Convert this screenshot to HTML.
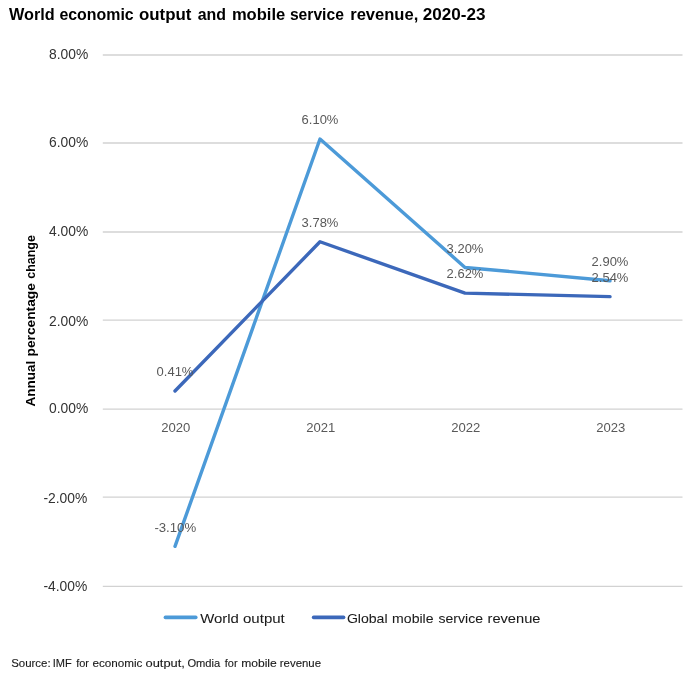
<!DOCTYPE html>
<html><head><meta charset="utf-8"><title>World economic output and mobile service revenue, 2020-23</title>
<style>
html,body{margin:0;padding:0;background:#fff}
svg{display:block;font-family:"Liberation Sans",sans-serif}
.grid line{stroke:#d2d2d2;stroke-width:1.3}
.ylab text{font-size:14.5px;fill:#333;text-anchor:end}
.cat text{font-size:13.1px;fill:#595959;text-anchor:middle}
.dl text{font-size:12.9px;fill:#595959;text-anchor:middle}
.ln{fill:none;stroke-width:3.4;stroke-linejoin:round;stroke-linecap:round}
</style></head><body>
<svg width="700" height="679" viewBox="0 0 700 679">
<rect width="700" height="679" fill="#fff"/>
<g class="grid"><line x1="102.8" x2="682.5" y1="55.0" y2="55.0"/><line x1="102.8" x2="682.5" y1="143.0" y2="143.0"/><line x1="102.8" x2="682.5" y1="232.0" y2="232.0"/><line x1="102.8" x2="682.5" y1="320.1" y2="320.1"/><line x1="102.8" x2="682.5" y1="409.1" y2="409.1"/><line x1="102.8" x2="682.5" y1="497.1" y2="497.1"/><line x1="102.8" x2="682.5" y1="586.3" y2="586.3"/></g>
<g class="ylab"><text x="88.2" y="59.40" textLength="39.2" lengthAdjust="spacingAndGlyphs">8.00%</text><text x="88.2" y="147.40" textLength="39.2" lengthAdjust="spacingAndGlyphs">6.00%</text><text x="88.2" y="236.40" textLength="39.2" lengthAdjust="spacingAndGlyphs">4.00%</text><text x="88.2" y="325.70" textLength="39.2" lengthAdjust="spacingAndGlyphs">2.00%</text><text x="88.2" y="413.40" textLength="39.2" lengthAdjust="spacingAndGlyphs">0.00%</text><text x="87.3" y="502.70" textLength="43.9" lengthAdjust="spacingAndGlyphs">-2.00%</text><text x="87.3" y="590.70" textLength="43.9" lengthAdjust="spacingAndGlyphs">-4.00%</text></g>
<g class="cat"><text x="175.7" y="431.5">2020</text><text x="320.7" y="431.5">2021</text><text x="465.7" y="431.5">2022</text><text x="610.7" y="431.5">2023</text></g>
<g font-size="13.4" font-weight="bold" fill="#000"><text transform="translate(35.4 406.60) rotate(-90)" textLength="45.80" lengthAdjust="spacingAndGlyphs">Annual</text><text transform="translate(35.4 356.50) rotate(-90)" textLength="73.40" lengthAdjust="spacingAndGlyphs">percentage</text><text transform="translate(35.4 278.80) rotate(-90)" textLength="43.70" lengthAdjust="spacingAndGlyphs">change</text></g>
<polyline class="ln" stroke="#4c9ad8" points="175,546.34 320,139.05 465,267.44 610,280.72"/>
<polyline class="ln" stroke="#3c68ba" points="175,390.95 320,241.76 465,293.11 610,296.65"/>
<g class="dl"><text x="175.3" y="531.64" textLength="41.8" lengthAdjust="spacingAndGlyphs">-3.10%</text><text x="320" y="124.35" textLength="36.8" lengthAdjust="spacingAndGlyphs">6.10%</text><text x="465" y="252.74" textLength="36.8" lengthAdjust="spacingAndGlyphs">3.20%</text><text x="610" y="266.02" textLength="36.8" lengthAdjust="spacingAndGlyphs">2.90%</text></g>
<g class="dl"><text x="175" y="376.25" textLength="36.8" lengthAdjust="spacingAndGlyphs">0.41%</text><text x="320" y="227.06" textLength="36.8" lengthAdjust="spacingAndGlyphs">3.78%</text><text x="465" y="278.41" textLength="36.8" lengthAdjust="spacingAndGlyphs">2.62%</text><text x="610" y="281.95" textLength="36.8" lengthAdjust="spacingAndGlyphs">2.54%</text></g>
<line x1="165.4" x2="195.8" y1="617.4" y2="617.4" stroke="#4c9ad8" stroke-width="3.6" stroke-linecap="round"/>
<line x1="313.6" x2="343.6" y1="617.4" y2="617.4" stroke="#3c68ba" stroke-width="3.6" stroke-linecap="round"/>
<g font-size="15.6" font-weight="bold" fill="#000" stroke="#000" stroke-width="0">
<text x="9.10" y="20.2" textLength="45.70" lengthAdjust="spacingAndGlyphs">World</text>
<text x="59.40" y="20.2" textLength="74.28" lengthAdjust="spacingAndGlyphs">economic</text>
<text x="139.00" y="20.2" textLength="52.47" lengthAdjust="spacingAndGlyphs">output</text>
<text x="197.70" y="20.2" textLength="28.30" lengthAdjust="spacingAndGlyphs">and</text>
<text x="231.90" y="20.2" textLength="53.40" lengthAdjust="spacingAndGlyphs">mobile</text>
<text x="289.90" y="20.2" textLength="53.98" lengthAdjust="spacingAndGlyphs">service</text>
<text x="350.20" y="20.2" textLength="68.08" lengthAdjust="spacingAndGlyphs">revenue,</text>
<text x="422.70" y="20.2" textLength="62.83" lengthAdjust="spacingAndGlyphs">2020-23</text>
</g>
<g font-size="13.5" font-weight="normal" fill="#1a1a1a" stroke="#1a1a1a" stroke-width="0.06">
<text x="200.20" y="622.8" textLength="38.70" lengthAdjust="spacingAndGlyphs">World</text>
<text x="243.00" y="622.8" textLength="41.81" lengthAdjust="spacingAndGlyphs">output</text>
</g>
<g font-size="13.5" font-weight="normal" fill="#1a1a1a" stroke="#1a1a1a" stroke-width="0.06">
<text x="346.90" y="622.8" textLength="40.66" lengthAdjust="spacingAndGlyphs">Global</text>
<text x="392.10" y="622.8" textLength="41.46" lengthAdjust="spacingAndGlyphs">mobile</text>
<text x="438.50" y="622.8" textLength="44.46" lengthAdjust="spacingAndGlyphs">service</text>
<text x="487.50" y="622.8" textLength="53.00" lengthAdjust="spacingAndGlyphs">revenue</text>
</g>
<g font-size="11.7" font-weight="normal" fill="#1a1a1a" stroke="#1a1a1a" stroke-width="0.12">
<text x="11.20" y="666.7" textLength="39.41" lengthAdjust="spacingAndGlyphs">Source:</text>
<text x="52.80" y="666.7" textLength="19.00" lengthAdjust="spacingAndGlyphs">IMF</text>
<text x="76.20" y="666.7" textLength="12.82" lengthAdjust="spacingAndGlyphs">for</text>
<text x="92.40" y="666.7" textLength="50.04" lengthAdjust="spacingAndGlyphs">economic</text>
<text x="145.50" y="666.7" textLength="39.36" lengthAdjust="spacingAndGlyphs">output,</text>
<text x="187.40" y="666.7" textLength="32.86" lengthAdjust="spacingAndGlyphs">Omdia</text>
<text x="224.80" y="666.7" textLength="12.75" lengthAdjust="spacingAndGlyphs">for</text>
<text x="241.20" y="666.7" textLength="35.60" lengthAdjust="spacingAndGlyphs">mobile</text>
<text x="279.80" y="666.7" textLength="41.22" lengthAdjust="spacingAndGlyphs">revenue</text>
</g>
</svg>
</body></html>
